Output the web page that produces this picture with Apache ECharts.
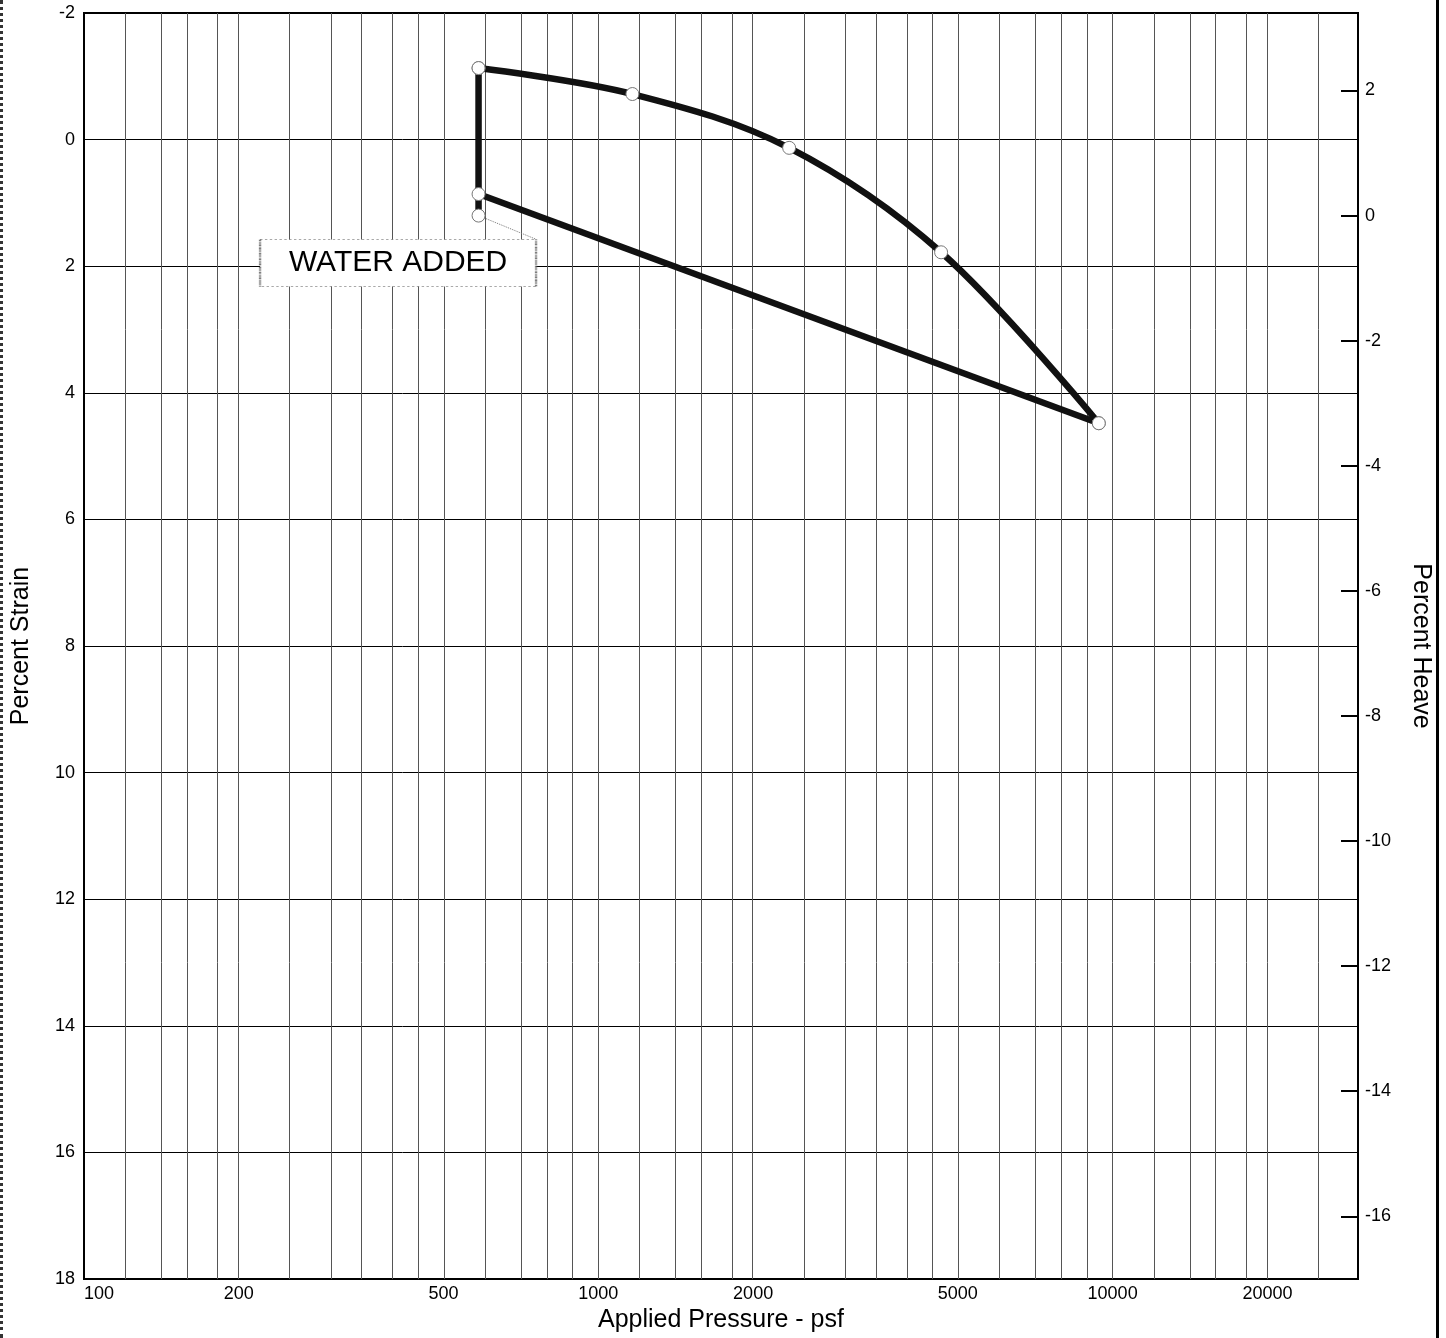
<!DOCTYPE html>
<html><head><meta charset="utf-8">
<script src="https://cdn.jsdelivr.net/npm/echarts@6/dist/echarts.min.js"></script>
<style>
html,body{margin:0;padding:0;background:#fff}
#chart{width:1446px;height:1338px}
.frame{position:absolute;left:0;top:0;width:1439px;height:1338px;box-sizing:border-box;border-left:3px dotted #333;border-right:3px solid #000;pointer-events:none}
</style>
</head><body>
<div id="chart"></div><div class="frame"></div>
<script>
// ---- data ----
const tickLabels = [100, 200, 500, 1000, 2000, 5000, 10000, 20000];
const gridPressures = [120,140,160,180,200,250,300,350,400,450,500,600,700,800,900,1000,1200,1400,1600,1800,2000,2500,3000,3500,4000,4500,5000,6000,7000,8000,9000,10000,12000,14000,16000,18000,20000,25000];
const heaveTicks = [2, 0, -2, -4, -6, -8, -10, -12, -14, -16];
const pressureMin = 100, pressureMax = 30000;
const strainMin = -2, strainMax = 18, strainStep = 2;

const waterPressure = [585, 585];
const waterStrain = [1.20, -1.13];
const loadPressure = [585, 1165, 2350, 4640, 9400];
const loadStrain = [-1.13, -0.72, 0.13, 1.78, 4.48];
const unloadPressure = [9400, 585];
const unloadStrain = [4.48, 0.86];
const waterAddedStrain = 1.20;

const annotationText = 'WATER ADDED';
const annotationAt = [408, 1.95];
const leaderFrom = [585, 1.20];
const leaderTo = [757, 1.575];

// ---- helpers ----
const lg = Math.log10;
const pts = (p, s) => p.map((v, i) => [lg(v), s[i]]);
const heave = s => (waterAddedStrain - s) / (1 - waterAddedStrain / 100);
const FONT = 'Liberation Sans, Arial, sans-serif';

const allPoints = [].concat(pts(waterPressure, waterStrain), pts(loadPressure, loadStrain), pts(unloadPressure, unloadStrain));

const lineStyleMain = {color: '#111', width: 6.5};

const chart = echarts.init(document.getElementById('chart'), null, {renderer: 'canvas'});
chart.setOption({
  animation: false,
  backgroundColor: '#fff',
  textStyle: {fontFamily: FONT, color: '#000'},
  grid: {left: 84, right: 88, top: 13, bottom: 55, show: true, borderColor: '#000', borderWidth: 2, backgroundColor: 'transparent'},
  xAxis: {
    type: 'value', min: lg(pressureMin), max: lg(pressureMax),
    name: 'Applied Pressure - psf', nameLocation: 'middle', nameGap: 27,
    nameTextStyle: {fontSize: 25, color: '#000', fontFamily: FONT},
    axisLine: {show: false}, axisTick: {show: false}, splitLine: {show: false},
    axisLabel: {
      customValues: tickLabels.map(lg),
      formatter: (v, i) => {
        const t = String(Math.round(Math.pow(10, v)));
        return i === 0 ? '{first|' + t + '}' : t;
      },
      rich: {first: {fontSize: 18, color: '#000', fontFamily: FONT, padding: [0, 0, 0, 8]}},
      fontSize: 18, color: '#000', margin: 6, alignMinLabel: 'left', fontFamily: FONT
    }
  },
  yAxis: [{
    type: 'value', inverse: true, min: strainMin, max: strainMax, interval: strainStep,
    name: 'Percent Strain', nameLocation: 'middle', nameGap: 50,
    nameTextStyle: {fontSize: 25, color: '#000', fontFamily: FONT},
    axisLine: {show: false}, axisTick: {show: false},
    axisLabel: {fontSize: 18, color: '#000', margin: 9, fontFamily: FONT},
    splitLine: {show: true, lineStyle: {color: '#000', width: 1}}
  }, {
    type: 'value', position: 'right', min: heave(strainMax), max: heave(strainMin),
    name: 'Percent Heave', nameLocation: 'middle', nameGap: 50, nameRotate: -90,
    nameTextStyle: {fontSize: 25, color: '#000', fontFamily: FONT},
    axisLine: {show: false},
    axisTick: {show: true, inside: true, length: 17, customValues: heaveTicks, lineStyle: {color: '#000', width: 2}},
    axisLabel: {customValues: heaveTicks, fontSize: 18, color: '#000', margin: 7, fontFamily: FONT},
    splitLine: {show: false}
  }],
  series: [
    {
      name: 'grid', type: 'line', z: 1, silent: true, showSymbol: false,
      data: [[lg(pressureMin), strainMin]], lineStyle: {width: 0},
      markLine: {
        silent: true, symbol: 'none', animation: false,
        label: {show: false},
        lineStyle: {color: '#555', width: 1, type: 'solid'},
        data: gridPressures.map(p => ({xAxis: lg(p)}))
      }
    },
    {
      name: 'annotation', type: 'line', z: 3, silent: true, showSymbol: false,
      data: [],
      markLine: {
        silent: true, symbol: 'none', animation: false,
        label: {show: false},
        lineStyle: {color: '#777', width: 1, type: 'dotted'},
        data: [[{coord: [lg(leaderFrom[0]), leaderFrom[1]]}, {coord: [lg(leaderTo[0]), leaderTo[1]]}]]
      },
      markPoint: {
        silent: true, animation: false,
        symbol: 'rect', symbolSize: [276, 47],
        itemStyle: {color: '#fff', borderColor: '#555', borderWidth: 1, borderType: 'dotted'},
        label: {show: true, position: 'inside', formatter: '{b}', color: '#000', fontSize: 30, fontFamily: FONT},
        data: [{name: annotationText, coord: [lg(annotationAt[0]), annotationAt[1]]}]
      }
    },
    {name: 'water added', type: 'line', z: 5, showSymbol: false, data: pts(waterPressure, waterStrain), lineStyle: lineStyleMain},
    {name: 'loading', type: 'line', z: 5, showSymbol: false, smooth: 0.35, data: pts(loadPressure, loadStrain), lineStyle: lineStyleMain},
    {name: 'unloading', type: 'line', z: 5, showSymbol: false, data: pts(unloadPressure, unloadStrain), lineStyle: lineStyleMain},
    {
      name: 'points', type: 'scatter', z: 10, symbol: 'circle', symbolSize: 13,
      itemStyle: {color: '#fff', borderColor: '#777', borderWidth: 1, opacity: 1},
      data: allPoints
    }
  ]
});
</script>
</body></html>
